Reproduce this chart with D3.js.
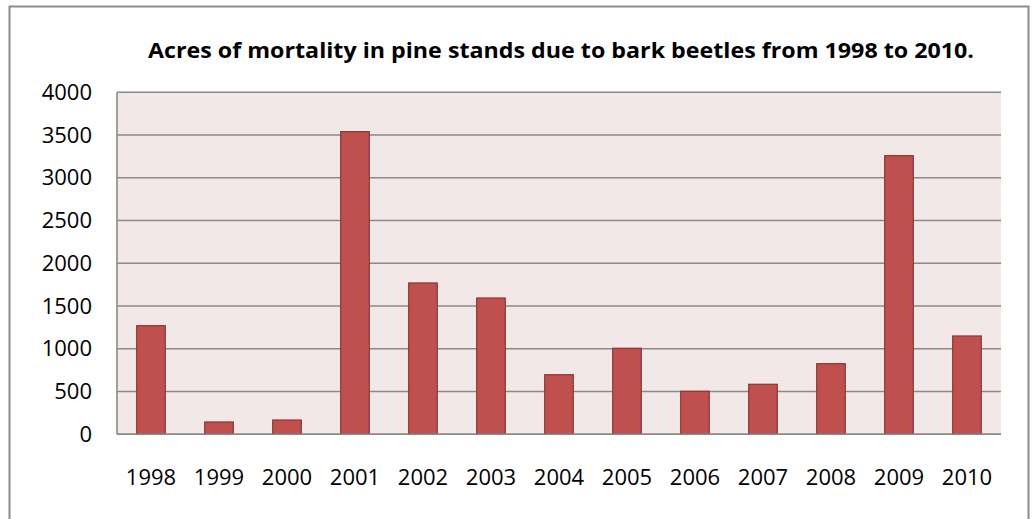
<!DOCTYPE html>
<html>
<head>
<meta charset="utf-8">
<script src="https://cdn.jsdelivr.net/npm/d3@7"></script>
<style>
  html, body { margin: 0; padding: 0; background: #fff; }
  svg { display: block; }
  text { font-family: "Open Sans", "Liberation Sans", sans-serif; fill: #000; }
</style>
</head>
<body>
<svg id="chart" width="1032" height="519"></svg>
<script>
// Acres of pine mortality from bark beetles, by year
const years = ["1998", "1999", "2000", "2001", "2002", "2003", "2004",
               "2005", "2006", "2007", "2008", "2009", "2010"];
const acres = [1270, 144, 167, 3540, 1770, 1594, 697, 1006, 503, 585, 826, 3259, 1150];
const yTicks = [0, 500, 1000, 1500, 2000, 2500, 3000, 3500, 4000];
const titleText = "Acres of mortality in pine stands due to bark beetles from 1998 to 2010.";

const svg = d3.select("#chart");
const plot = { left: 117, right: 1001, top: 92.3, bottom: 434.3 };

// outer chart frame
svg.append("rect")
  .attr("x", 9.5).attr("y", 6.5)
  .attr("width", 1019).attr("height", 530)
  .attr("fill", "#fff")
  .attr("stroke", "#8c8c8c").attr("stroke-width", 2);

const x = d3.scaleBand()
  .domain(years)
  .range([plot.left, plot.right])
  .paddingInner(0.58)
  .paddingOuter(0.29);

const y = d3.scaleLinear()
  .domain([0, 4000])
  .range([plot.bottom, plot.top]);

// plot area background
svg.append("rect")
  .attr("x", plot.left).attr("y", plot.top)
  .attr("width", plot.right - plot.left)
  .attr("height", plot.bottom - plot.top)
  .attr("fill", "#f2e8e8");

// horizontal gridlines
svg.append("g")
  .selectAll("line")
  .data(yTicks)
  .join("line")
  .attr("x1", plot.left).attr("x2", plot.right)
  .attr("y1", d => y(d)).attr("y2", d => y(d))
  .attr("stroke", "#8a8a8a").attr("stroke-width", 1.6);

// left axis line
svg.append("line")
  .attr("x1", plot.left).attr("x2", plot.left)
  .attr("y1", plot.top).attr("y2", plot.bottom)
  .attr("stroke", "#8a8a8a").attr("stroke-width", 1.6);

// bars
svg.append("g")
  .selectAll("rect")
  .data(years.map((yr, i) => ({ yr, v: acres[i] })))
  .join("rect")
  .attr("x", d => x(d.yr))
  .attr("y", d => y(d.v))
  .attr("width", x.bandwidth())
  .attr("height", d => y(0) - y(d.v))
  .attr("fill", "#c0504d")
  .attr("stroke", "#8e3532")
  .attr("stroke-width", 1.2);

// bottom axis line over bar bases
svg.append("line")
  .attr("x1", plot.left).attr("x2", plot.right)
  .attr("y1", plot.bottom).attr("y2", plot.bottom)
  .attr("stroke", "#8a8a8a").attr("stroke-width", 1.6);

// y tick labels
const yAxis = d3.axisLeft(y).tickValues(yTicks).tickFormat(d3.format("d"))
  .tickSize(0).tickPadding(25);
const gy = svg.append("g").attr("transform", `translate(${plot.left},0)`).call(yAxis);
gy.select(".domain").remove();
gy.selectAll("text")
  .attr("font-size", 22)
  .attr("font-family", "Open Sans, Liberation Sans, sans-serif")
  .attr("fill", "#000");

// x tick labels
const xAxis = d3.axisBottom(x).tickSize(0).tickPadding(0);
const gx = svg.append("g").attr("transform", `translate(0,${plot.bottom})`).call(xAxis);
gx.select(".domain").remove();
gx.selectAll("text")
  .attr("font-size", 22)
  .attr("font-family", "Open Sans, Liberation Sans, sans-serif")
  .attr("fill", "#000")
  .attr("dy", null)
  .attr("y", 51);

// title
svg.append("text")
  .attr("x", 561).attr("y", 58)
  .attr("text-anchor", "middle")
  .attr("font-size", 21)
  .attr("font-weight", "bold")
  .attr("textLength", 826)
  .attr("lengthAdjust", "spacingAndGlyphs")
  .text(titleText);
</script>
</body>
</html>
